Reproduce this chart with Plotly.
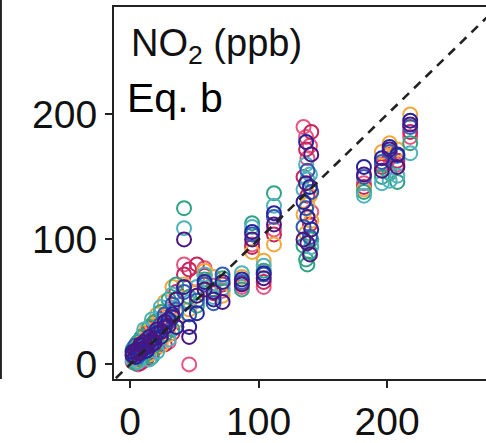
import plotly.graph_objects as go

# Observed NO2 (ppb) - shared x positions
obs = [2, 4, 6, 8, 9, 11, 13, 15, 17, 19, 21, 24, 27, 30, 33, 36,
       42, 46, 52, 58, 65, 72, 87, 95, 104, 112,
       135, 137, 138, 140, 141, 182, 196, 202, 208, 218]

# Modelled NO2 (ppb), one list per series
s_pink    = [2, 12, 0, 6, 18, 3, 22, 9, 28, 12, 35, 20, 38, 18, 45, 30,
             80, 0, 68, 77, 63, 59, 62, 96, 62, 108,
             190, 182, 165, 175, 122, 145, 160, 165, 160, 182]
s_crimson = [10, 3, 15, 1, 11, 24, 5, 26, 10, 30, 14, 36, 16, 42, 25, 58,
             72, 76, 80, 71, 57, 64, 65, 94, 66, 104,
             150, 172, 135, 112, 186, 142, 158, 168, 163, 186]
s_orange  = [6, 14, 3, 18, 5, 20, 28, 8, 32, 17, 40, 15, 50, 24, 62, 35,
             64, 44, 58, 75, 70, 55, 70, 90, 83, 96,
             120, 105, 128, 135, 115, 140, 170, 177, 172, 200]
s_teal    = [12, 1, 18, 4, 22, 7, 12, 30, 6, 34, 16, 42, 24, 52, 28, 64,
             125, 54, 47, 68, 60, 69, 60, 113, 75, 137,
             95, 84, 80, 90, 100, 138, 150, 153, 146, 177]
s_light   = [4, 9, 2, 14, 9, 28, 16, 4, 36, 22, 10, 46, 30, 20, 56, 42,
             109, 50, 62, 72, 54, 61, 73, 110, 79, 127,
             140, 160, 148, 152, 94, 135, 145, 147, 151, 169]
s_blue    = [8, 15, 6, 12, 16, 10, 20, 14, 18, 26, 24, 32, 40, 34, 48, 44,
             58, 40, 51, 64, 49, 72, 66, 104, 72, 118,
             110, 125, 155, 102, 138, 150, 162, 170, 167, 190]
s_navy    = [10, 6, 12, 9, 15, 13, 11, 18, 16, 21, 25, 22, 30, 36, 40, 30,
             62, 30, 41, 66, 52, 66, 68, 106, 73, 121,
             130, 178, 118, 142, 108, 158, 165, 174, 168, 195]
s_purple  = [7, 11, 9, 16, 12, 18, 14, 22, 20, 17, 28, 26, 34, 31, 38, 52,
             100, 22, 55, 60, 58, 50, 64, 100, 69, 112,
             100, 145, 97, 88, 168, 152, 155, 172, 158, 192]

series = [
    ("pink", s_pink, "#E9557F"),
    ("crimson", s_crimson, "#C8245E"),
    ("orange", s_orange, "#F2A93B"),
    ("teal", s_teal, "#2FA383"),
    ("lightteal", s_light, "#4FB3BD"),
    ("blue", s_blue, "#2F5DB5"),
    ("navy", s_navy, "#26239C"),
    ("purple", s_purple, "#4A1780"),
]

fig = go.Figure()
for name, ys, col in series:
    fig.add_trace(go.Scatter(
        x=obs, y=ys, mode="markers", name=name,
        marker=dict(symbol="circle-open", size=14, color=col,
                    line=dict(width=2, color=col)),
        showlegend=False,
    ))

fig.add_shape(type="line", xref="x", yref="y", x0=-20, y0=-20, x1=300, y1=300,
              line=dict(color="#222222", width=2.6, dash="9px,7px"))

# right border of neighbouring (cut-off) panel
fig.add_shape(type="line", xref="paper", yref="paper",
              x0=-0.304, x1=-0.304, y0=0, y1=1.03,
              line=dict(color="#222222", width=2))

fig.add_annotation(text="NO<sub>2</sub> (ppb)", xref="paper", yref="paper",
                   x=0.04, y=0.895, xanchor="left", yanchor="middle",
                   showarrow=False, font=dict(family="Liberation Sans, Arial", size=38, color="#111111"))
fig.add_annotation(text="Eq. b", xref="paper", yref="paper",
                   x=0.03, y=0.755, xanchor="left", yanchor="middle",
                   showarrow=False, font=dict(family="Liberation Sans, Arial", size=41, color="#000000"))

axis_common = dict(showgrid=False, zeroline=False, showline=True, linecolor="#222222",
                   linewidth=2, ticks="outside", ticklen=7, tickwidth=2, tickcolor="#222222",
                   tickfont=dict(family="Liberation Sans, Arial", size=39, color="#111111"),
                   tickvals=[0, 100, 200])
fig.update_xaxes(range=[-12.5, 277], mirror=True, **axis_common)
fig.update_yaxes(range=[-11.7, 286], mirror=False, **axis_common)

fig.update_layout(width=486, height=443, margin=dict(l=114, r=0, t=7, b=55),
                  plot_bgcolor="white", paper_bgcolor="white")
fig.write_html("out.html")
